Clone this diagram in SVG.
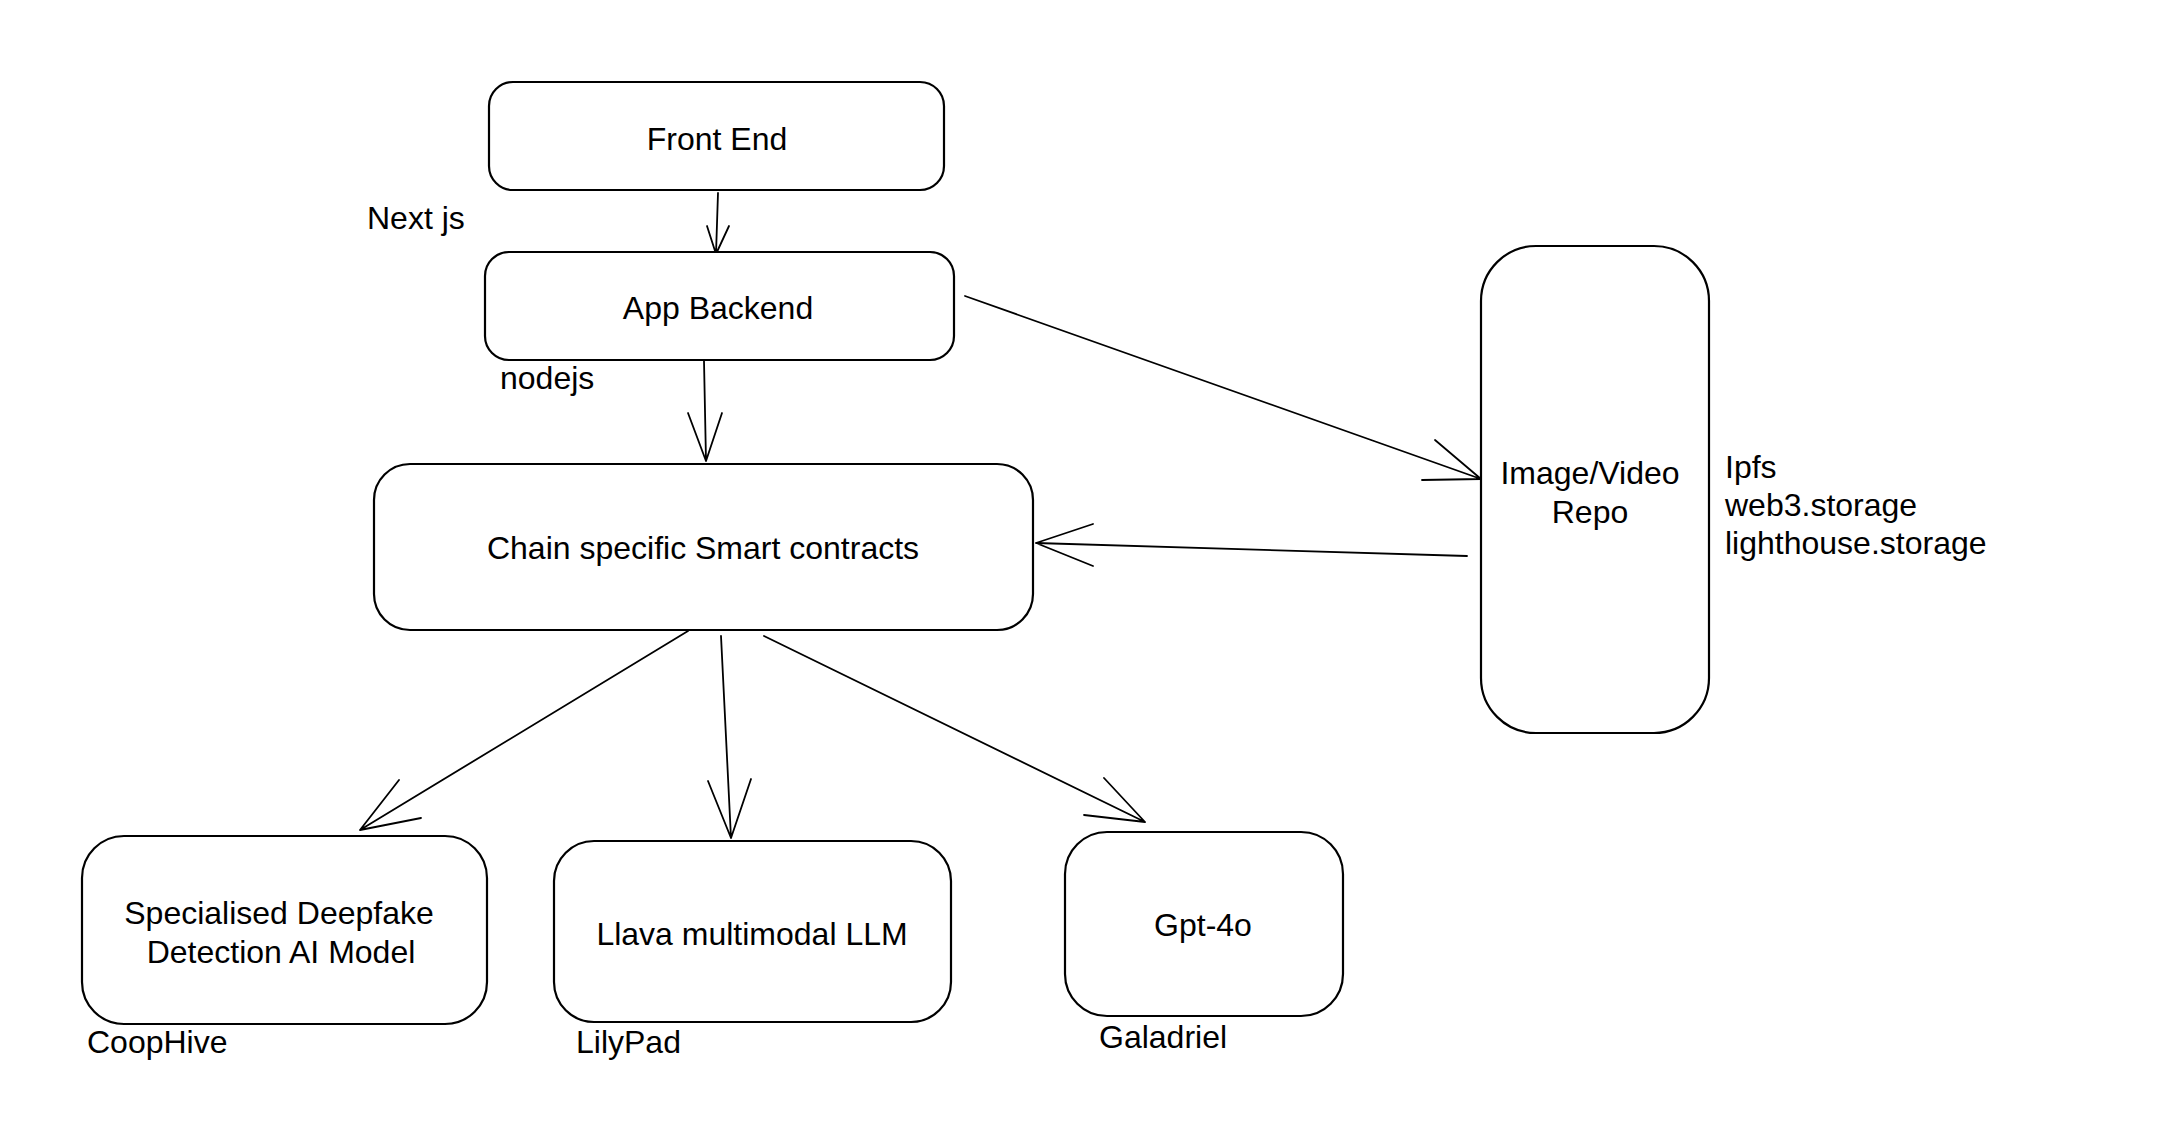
<svg xmlns="http://www.w3.org/2000/svg" width="2180" height="1132" viewBox="0 0 2180 1132">
<style>
.box{fill:#fff;stroke:#000;stroke-width:2.2}
.t{font-family:"Liberation Sans",Arial,Helvetica,sans-serif;font-size:32px;fill:#000}
.c{text-anchor:middle}
.ln{fill:none;stroke:#000;stroke-width:1.8;stroke-linecap:round;stroke-linejoin:round}
</style>
<rect width="2180" height="1132" fill="#fff"/>
<g id="connectors">
<path class="ln" d="M718 193 L716 254 M707 226 L716 254 L729 226"/>
<path class="ln" d="M704 361 L706 461 M688 413 L706 461 L722 413"/>
<path class="ln" d="M965 296 L1481 479 M1435 440 L1481 479 L1422 480"/>
<path class="ln" d="M1467 556 L1036 543 M1093 524 L1036 543 L1093 566"/>
<path class="ln" d="M688 631 L360 830 M399 780 L360 830 L421 818"/>
<path class="ln" d="M721 636 L731 838 M708 781 L731 838 L751 779"/>
<path class="ln" d="M764 636 L1145 822 M1104 778 L1145 822 L1084 815"/>
</g>
<g id="front-end">
<rect class="box" x="489" y="82" width="455" height="108" rx="24"/>
<text class="t c" x="717" y="150">Front End</text>
</g>
<g id="next-js-label"><text class="t" x="367" y="229">Next js</text></g>
<g id="app-backend">
<rect class="box" x="485" y="252" width="469" height="108" rx="24"/>
<text class="t c" x="718" y="319">App Backend</text>
</g>
<g id="nodejs-label"><text class="t" x="500" y="389">nodejs</text></g>
<g id="smart-contracts">
<rect class="box" x="374" y="464" width="659" height="166" rx="36"/>
<text class="t c" x="703" y="559">Chain specific Smart contracts</text>
</g>
<g id="image-repo">
<rect class="box" x="1481" y="246" width="228" height="487" rx="55"/>
<text class="t c" x="1590" y="484">Image/Video</text>
<text class="t c" x="1590" y="523">Repo</text>
</g>
<g id="storage-label">
<text class="t" x="1725" y="478">Ipfs</text>
<text class="t" x="1725" y="516">web3.storage</text>
<text class="t" x="1725" y="554">lighthouse.storage</text>
</g>
<g id="deepfake-model">
<rect class="box" x="82" y="836" width="405" height="188" rx="42"/>
<text class="t c" x="279" y="924">Specialised Deepfake</text>
<text class="t c" x="281" y="963">Detection AI Model</text>
</g>
<g id="coophive-label"><text class="t" x="87" y="1053">CoopHive</text></g>
<g id="llava">
<rect class="box" x="554" y="841" width="397" height="181" rx="40"/>
<text class="t c" x="752" y="945">Llava multimodal LLM</text>
</g>
<g id="lilypad-label"><text class="t" x="576" y="1053">LilyPad</text></g>
<g id="gpt4o">
<rect class="box" x="1065" y="832" width="278" height="184" rx="42"/>
<text class="t c" x="1203" y="936">Gpt-4o</text>
</g>
<g id="galadriel-label"><text class="t" x="1099" y="1048">Galadriel</text></g>
</svg>
